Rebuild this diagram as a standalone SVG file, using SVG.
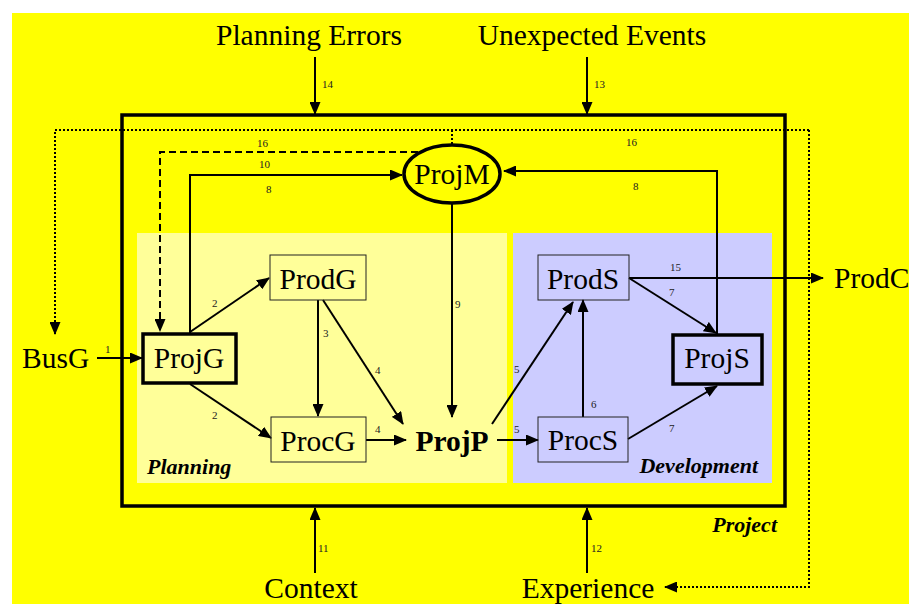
<svg xmlns="http://www.w3.org/2000/svg" width="909" height="604" viewBox="0 0 909 604">
  <defs>
    <marker id="arrow" viewBox="0 0 13 11" refX="12" refY="5.5" markerWidth="13" markerHeight="11" markerUnits="userSpaceOnUse" orient="auto">
      <path d="M0,0 L13,5.5 L0,11 z" fill="#000"/>
    </marker>
    <style>
      .node-text { font-family: "Liberation Serif", "Times New Roman", serif; font-size: 29.5px; fill: #000; text-anchor: middle; }
      .side-text { font-family: "Liberation Serif", "Times New Roman", serif; font-size: 29.5px; fill: #000; }
      .num { font-family: "Liberation Serif", "Times New Roman", serif; font-size: 11px; fill: #222; }
      .area { font-family: "Liberation Serif", "Times New Roman", serif; font-size: 22px; font-weight: bold; font-style: italic; fill: #000; }
      .box { fill: none; stroke: #222; stroke-width: 1; }
      .thick { stroke: #000; stroke-width: 3.5; }
      .edge { fill: none; stroke: #000; stroke-width: 2; }
      .arrowed { marker-end: url(#arrow); }
      .dotted { stroke-dasharray: 2 2; }
      .dashed { stroke-dasharray: 7 4; }
    </style>
  </defs>

  <!-- backdrop -->
  <rect x="12" y="13" width="897" height="591" fill="#FFFF00"/>

  <!-- areas -->
  <g id="planning-area">
    <rect x="137" y="233" width="370" height="250" fill="#FFFF99"/>
    <text class="area" x="147" y="474">Planning</text>
  </g>
  <g id="development-area">
    <rect x="513" y="233" width="259" height="250" fill="#CCCCFF"/>
    <text class="area" x="758" y="473" text-anchor="end">Development</text>
  </g>
  <g id="project-frame">
    <rect x="122" y="115" width="663" height="391" fill="none" stroke="#000" stroke-width="3.5"/>
    <text class="area" x="777" y="532" text-anchor="end">Project</text>
  </g>

  <!-- connectors -->
  <g id="connectors">
    <!-- 16 dotted feedback loop -->
    <polyline class="edge dotted arrowed" points="809,130 55,130 55,334"/>
    <polyline class="edge dotted arrowed" points="809,130 809,587 665,587"/>
    <line class="edge dotted" x1="452" y1="130" x2="452" y2="145"/>
    <!-- 16 dashed to ProjG -->
    <polyline class="edge dashed arrowed" points="418,152 160,152 160,331"/>
    <!-- 10 ProjG to ProjM -->
    <polyline class="edge arrowed" points="190,333 190,175 402,175"/>
    <!-- 8 ProjS to ProjM -->
    <polyline class="edge arrowed" points="717,334 717,171 504,171"/>
    <!-- 9 ProjM to ProjP -->
    <line class="edge arrowed" x1="452" y1="204" x2="452" y2="417"/>
    <!-- 14, 13 -->
    <line class="edge arrowed" x1="315" y1="57" x2="315" y2="114"/>
    <line class="edge arrowed" x1="587" y1="57" x2="587" y2="114"/>
    <!-- 11, 12 -->
    <line class="edge arrowed" x1="315" y1="573" x2="315" y2="508"/>
    <line class="edge arrowed" x1="587" y1="573" x2="587" y2="508"/>
    <!-- 1 -->
    <line class="edge arrowed" x1="97" y1="358" x2="142" y2="358"/>
    <!-- 2 -->
    <line class="edge arrowed" x1="190" y1="332" x2="269" y2="278"/>
    <line class="edge arrowed" x1="190" y1="384" x2="271" y2="438"/>
    <!-- 3 -->
    <line class="edge arrowed" x1="318" y1="300" x2="318" y2="416"/>
    <!-- 4 -->
    <line class="edge arrowed" x1="323" y1="300" x2="403" y2="424"/>
    <line class="edge arrowed" x1="366" y1="440" x2="406" y2="440"/>
    <!-- 5 -->
    <line class="edge arrowed" x1="497" y1="440" x2="538" y2="440"/>
    <line class="edge arrowed" x1="492" y1="424" x2="573" y2="302"/>
    <!-- 6 -->
    <line class="edge arrowed" x1="583" y1="417" x2="583" y2="300"/>
    <!-- 7 -->
    <line class="edge arrowed" x1="629" y1="278" x2="716" y2="333"/>
    <line class="edge arrowed" x1="628" y1="439" x2="717" y2="386"/>
    <!-- 15 -->
    <line class="edge arrowed" x1="629" y1="278" x2="823" y2="278"/>

    <!-- edge numbers -->
    <text class="num" x="105" y="353">1</text>
    <text class="num" x="212" y="307">2</text>
    <text class="num" x="212" y="419">2</text>
    <text class="num" x="323" y="337">3</text>
    <text class="num" x="375" y="374">4</text>
    <text class="num" x="375" y="433">4</text>
    <text class="num" x="514" y="373">5</text>
    <text class="num" x="514" y="433">5</text>
    <text class="num" x="591" y="408">6</text>
    <text class="num" x="669" y="296">7</text>
    <text class="num" x="669" y="432">7</text>
    <text class="num" x="266" y="193">8</text>
    <text class="num" x="633" y="190">8</text>
    <text class="num" x="455" y="308">9</text>
    <text class="num" x="259" y="168">10</text>
    <text class="num" x="318" y="552">11</text>
    <text class="num" x="591" y="552">12</text>
    <text class="num" x="594" y="88">13</text>
    <text class="num" x="322" y="88">14</text>
    <text class="num" x="670" y="271">15</text>
    <text class="num" x="257" y="147">16</text>
    <text class="num" x="626" y="146">16</text>
  </g>

  <!-- nodes -->
  <g id="node-planning-errors">
    <text class="node-text" x="309" y="45">Planning Errors</text>
  </g>
  <g id="node-unexpected-events">
    <text class="node-text" x="592" y="45">Unexpected Events</text>
  </g>
  <g id="node-context">
    <text class="node-text" x="311" y="598">Context</text>
  </g>
  <g id="node-experience">
    <text class="node-text" x="588" y="598">Experience</text>
  </g>
  <g id="node-busg">
    <text class="side-text" x="22" y="368">BusG</text>
  </g>
  <g id="node-prodc">
    <text class="side-text" x="834" y="288">ProdC</text>
  </g>
  <g id="node-projm">
    <ellipse cx="452" cy="174" rx="48" ry="29" fill="#FFFF00" stroke="#000" stroke-width="3.5"/>
    <text class="node-text" x="452" y="184">ProjM</text>
  </g>
  <g id="node-projg">
    <rect class="thick" x="143" y="334" width="93" height="49" fill="#FFFF99"/>
    <text class="node-text" x="189" y="368">ProjG</text>
  </g>
  <g id="node-prodg">
    <rect class="box" x="270" y="255" width="96" height="45"/>
    <text class="node-text" x="318" y="289">ProdG</text>
  </g>
  <g id="node-procg">
    <rect class="box" x="271" y="417" width="95" height="45"/>
    <text class="node-text" x="318" y="451">ProcG</text>
  </g>
  <g id="node-projp">
    <text class="node-text" x="452" y="451" font-weight="bold">ProjP</text>
  </g>
  <g id="node-prods">
    <rect class="box" x="538" y="255" width="91" height="45"/>
    <text class="node-text" x="583" y="289">ProdS</text>
  </g>
  <g id="node-procs">
    <rect class="box" x="538" y="417" width="90" height="45"/>
    <text class="node-text" x="583" y="450">ProcS</text>
  </g>
  <g id="node-projs">
    <rect class="thick" x="673" y="335" width="89" height="49" fill="#CCCCFF"/>
    <text class="node-text" x="717" y="368">ProjS</text>
  </g>
</svg>
